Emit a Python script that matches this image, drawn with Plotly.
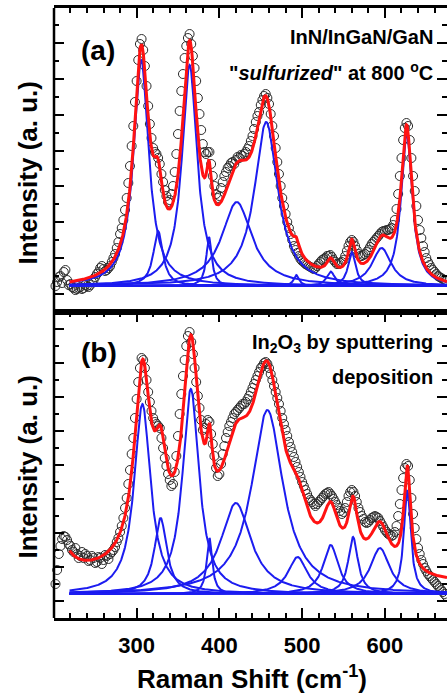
import numpy as np
import plotly.graph_objects as go

# Raman shift sampling of the measured spectra (cm^-1): 200, 202, ... 676
shift_start, shift_step = 200, 2

# (a) InN/InGaN/GaN "sulfurized" at 800 °C: measured intensity (a. u.), 24 cm^-1 per row
counts_a = [
    -6, 0, 4, 9, 10, 3, 14, 16, 6, 1, 2, -1,
    -2, -4, -3, -2, -1, -3, -2, 1, 0, -1, 1, 4,
    6, 9, 12, 14, 18, 20, 17, 15, 16, 18, 20, 24,
    28, 32, 38, 44, 52, 58, 66, 76, 88, 103, 120, 140,
    160, 184, 205, 226, 242, 247, 236, 220, 200, 180, 162, 148,
    138, 134, 132, 128, 122, 112, 104, 96, 90, 84, 86, 92,
    100, 114, 132, 152, 175, 195, 212, 228, 240, 248, 252, 242,
    230, 218, 205, 188, 172, 156, 142, 134, 132, 134, 134, 122,
    110, 100, 92, 88, 90, 98, 104, 110, 114, 118, 120, 123,
    124, 122, 126, 129, 128, 131, 130, 132, 134, 137, 140, 145,
    150, 157, 164, 170, 174, 181, 186, 190, 192, 188, 182, 172,
    160, 150, 138, 124, 112, 100, 88, 80, 72, 64, 58, 52,
    46, 40, 36, 33, 30, 27, 25, 24, 22, 21, 20, 19,
    18, 17, 18, 20, 22, 24, 26, 27, 28, 30, 30, 31,
    29, 26, 24, 22, 22, 23, 24, 26, 30, 35, 40, 44,
    46, 44, 40, 36, 32, 30, 30, 31, 32, 34, 36, 39,
    42, 44, 46, 48, 50, 52, 54, 55, 55, 56, 56, 57,
    58, 61, 66, 77, 92, 110, 128, 146, 158, 163, 160, 146,
    128, 110, 95, 80, 66, 56, 48, 40, 34, 28, 24, 21,
    18, 16, 14, 12, 10, 9, 8, 7, 6, 5, 4,
]

# (b) In2O3 by sputtering deposition: measured intensity (a. u.), 24 cm^-1 per row
counts_b = [
    -2, 10, 24, 40, 48, 55, 58, 57, 54, 50, 48, 44,
    42, 46, 40, 36, 38, 42, 36, 40, 38, 33, 34, 38,
    36, 31, 32, 37, 36, 30, 34, 39, 38, 35, 40, 42,
    44, 47, 52, 56, 62, 68, 76, 86, 96, 110, 124, 140,
    156, 176, 195, 212, 226, 236, 234, 226, 214, 202, 192, 183,
    176, 172, 170, 168, 166, 156, 146, 136, 128, 120, 114, 108,
    110, 122, 138, 158, 180, 200, 218, 234, 248, 258, 262, 252,
    240, 226, 212, 198, 186, 174, 164, 166, 170, 174, 172, 160,
    150, 138, 126, 118, 120, 130, 140, 148, 156, 162, 168, 172,
    176, 180, 182, 184, 186, 188, 190, 190, 192, 195, 198, 202,
    206, 210, 214, 218, 222, 226, 228, 231, 232, 230, 226, 220,
    214, 208, 202, 196, 190, 183, 176, 170, 164, 158, 152, 147,
    142, 137, 132, 127, 122, 117, 112, 108, 104, 100, 96, 94,
    92, 90, 88, 90, 92, 94, 96, 98, 100, 101, 102, 100,
    98, 95, 92, 89, 86, 83, 80, 82, 86, 92, 98, 102,
    104, 102, 98, 92, 86, 82, 78, 75, 72, 71, 72, 74,
    76, 77, 78, 77, 76, 73, 70, 67, 64, 62, 60, 59,
    58, 59, 62, 68, 78, 90, 104, 116, 126, 130, 128, 114,
    96, 80, 66, 55, 46, 40, 34, 30, 26, 23, 20, 18,
    16, 14, 12, 10, 8, 6, 4, 2, 0, -2, -4,
]

# Lorentzian components of the fits: centre (cm^-1), height, FWHM (cm^-1)
centre_a = [305.5, 326, 364, 387.5, 421, 456.5, 493, 534.5, 560, 596, 626.2]
height_a = [226, 55, 221, 49, 84, 164, 11, 14.5, 34, 38, 154]
fwhm_a = [22, 14, 22, 8, 44, 34, 8, 12, 11, 28, 16]

centre_b = [307, 329, 365.5, 388, 420, 458, 494.5, 534.5, 561.5, 594, 627]
height_b = [190, 76, 205, 56, 91, 184, 37, 49, 57, 46, 104]
fwhm_b = [24, 18, 24, 8, 44, 46, 28, 22, 14, 28, 10]

# background under each fit: linear level (start, end) plus a decaying
# low-wavenumber edge (amplitude, decay length in cm^-1)
level_a, edge_a = [-3, -3], [0, 12]
level_b, edge_b = [19, 10], [16, 12]
fit_range = [219, 675]

FONT = "Liberation Sans, Arial, sans-serif"
BLUE = "#1c1cf0"
RED = "#ff1212"


def lorentz(x, c, h, w):
    return h / (1.0 + ((x - c) / (w / 2.0)) ** 2)


def background(x, level, edge):
    t = (x - fit_range[0]) / (fit_range[1] - fit_range[0])
    return level[0] + (level[1] - level[0]) * t + edge[0] * np.exp(-(x - fit_range[0]) / edge[1])


xf = np.arange(fit_range[0], fit_range[1] + 0.25, 0.5)

fig = go.Figure()

panels = [
    (counts_a, centre_a, height_a, fwhm_a, level_a, edge_a, "x2", "y2"),
    (counts_b, centre_b, height_b, fwhm_b, level_b, edge_b, "x", "y"),
]
for counts, centres, heights, widths, level, edge, xa, ya in panels:
    shift = [shift_start + shift_step * i for i in range(len(counts))]
    fig.add_trace(go.Scatter(
        x=shift, y=counts, mode="markers", xaxis=xa, yaxis=ya,
        marker=dict(symbol="circle-open", size=9, color="#2b2b2b",
                    line=dict(width=1, color="#2b2b2b")),
        cliponaxis=False, showlegend=False, hoverinfo="skip"))
    total = background(xf, level, edge)
    for c, h, w in zip(centres, heights, widths):
        comp = lorentz(xf, c, h, w)
        total = total + comp
        fig.add_trace(go.Scatter(
            x=xf, y=comp, mode="lines", xaxis=xa, yaxis=ya,
            line=dict(color=BLUE, width=2), showlegend=False, hoverinfo="skip"))
    fig.add_trace(go.Scatter(
        x=xf, y=total, mode="lines", xaxis=xa, yaxis=ya,
        line=dict(color=RED, width=3), showlegend=False, hoverinfo="skip"))

split = 0.5016
x_common = dict(
    range=[200.2, 675], showgrid=False, zeroline=False,
    showline=True, linecolor="black", linewidth=2.5,
    ticks="inside", ticklen=10, tickwidth=2, tickcolor="black",
    tick0=0, dtick=100,
    minor=dict(ticks="inside", ticklen=5, tickwidth=1.5, tickcolor="black", dtick=20),
)
y_common = dict(
    showgrid=False, zeroline=False, showline=False, showticklabels=False,
    ticks="inside", ticklen=10, tickwidth=2, tickcolor="black", mirror="ticks",
)

fig.update_layout(
    width=447, height=696,
    margin=dict(l=54, r=0, t=8, b=78),
    paper_bgcolor="white", plot_bgcolor="white",
    font=dict(family=FONT, color="black"),
    xaxis=dict(**x_common, domain=[0, 1], anchor="y", mirror="ticks",
               showticklabels=True, ticklabelstandoff=6,
               tickfont=dict(family=FONT, size=22, weight="bold")),
    xaxis2=dict(**x_common, domain=[0, 1], anchor="y2", side="top", mirror=True,
                showticklabels=False),
    yaxis=dict(**y_common, domain=[0, split], range=[-24, 282],
               tick0=-6.7, dtick=33.94,
               minor=dict(ticks="inside", ticklen=5, tickwidth=1.5, tickcolor="black",
                          tick0=-6.7, dtick=16.97)),
    yaxis2=dict(**y_common, domain=[split, 1], range=[-26, 278],
                tick0=-8.3, dtick=35.94,
                minor=dict(ticks="inside", ticklen=5, tickwidth=1.5, tickcolor="black",
                           tick0=-8.3, dtick=17.97)),
    shapes=[dict(type="line", xref="paper", yref="paper", x0=0, x1=0, y0=0, y1=1,
                 line=dict(color="black", width=2.5))],
)

notes = [
    dict(text="<b>Intensity (a. u.)</b>", x=-0.0649, y=0.7295, textangle=-90,
         xanchor="center", yanchor="middle", font=dict(size=26, family=FONT)),
    dict(text="<b>Intensity (a. u.)</b>", x=-0.0649, y=0.2475, textangle=-90,
         xanchor="center", yanchor="middle", font=dict(size=26, family=FONT)),
    dict(text="<b>Raman Shift (cm<sup>-1</sup>)</b>", x=0.504, y=-0.098,
         xanchor="center", yanchor="middle", font=dict(size=26, family=FONT)),
    dict(text="<b>(a)</b>", x=0.1132, y=0.9303, xanchor="center", yanchor="middle",
         font=dict(size=28, family=FONT)),
    dict(text="<b>(b)</b>", x=0.1145, y=0.436, xanchor="center", yanchor="middle",
         font=dict(size=28, family=FONT)),
    dict(text="<b>InN/InGaN/GaN</b>", x=0.9695, y=0.9525, xanchor="right", yanchor="middle",
         font=dict(size=20, family=FONT)),
    dict(text="<b>\"<i>sulfurized</i>\" at 800 <sup>o</sup>C</b>", x=0.9695, y=0.8967,
         xanchor="right", yanchor="middle", font=dict(size=20, family=FONT)),
    dict(text="<b>In<sub>2</sub>O<sub>3</sub> by sputtering</b>", x=0.9695, y=0.4508,
         xanchor="right", yanchor="middle", font=dict(size=20, family=FONT)),
    dict(text="<b>deposition</b>", x=0.9695, y=0.395, xanchor="right", yanchor="middle",
         font=dict(size=20, family=FONT)),
]
for n in notes:
    fig.add_annotation(xref="paper", yref="paper", showarrow=False, **n)

fig.write_html("out.html")
